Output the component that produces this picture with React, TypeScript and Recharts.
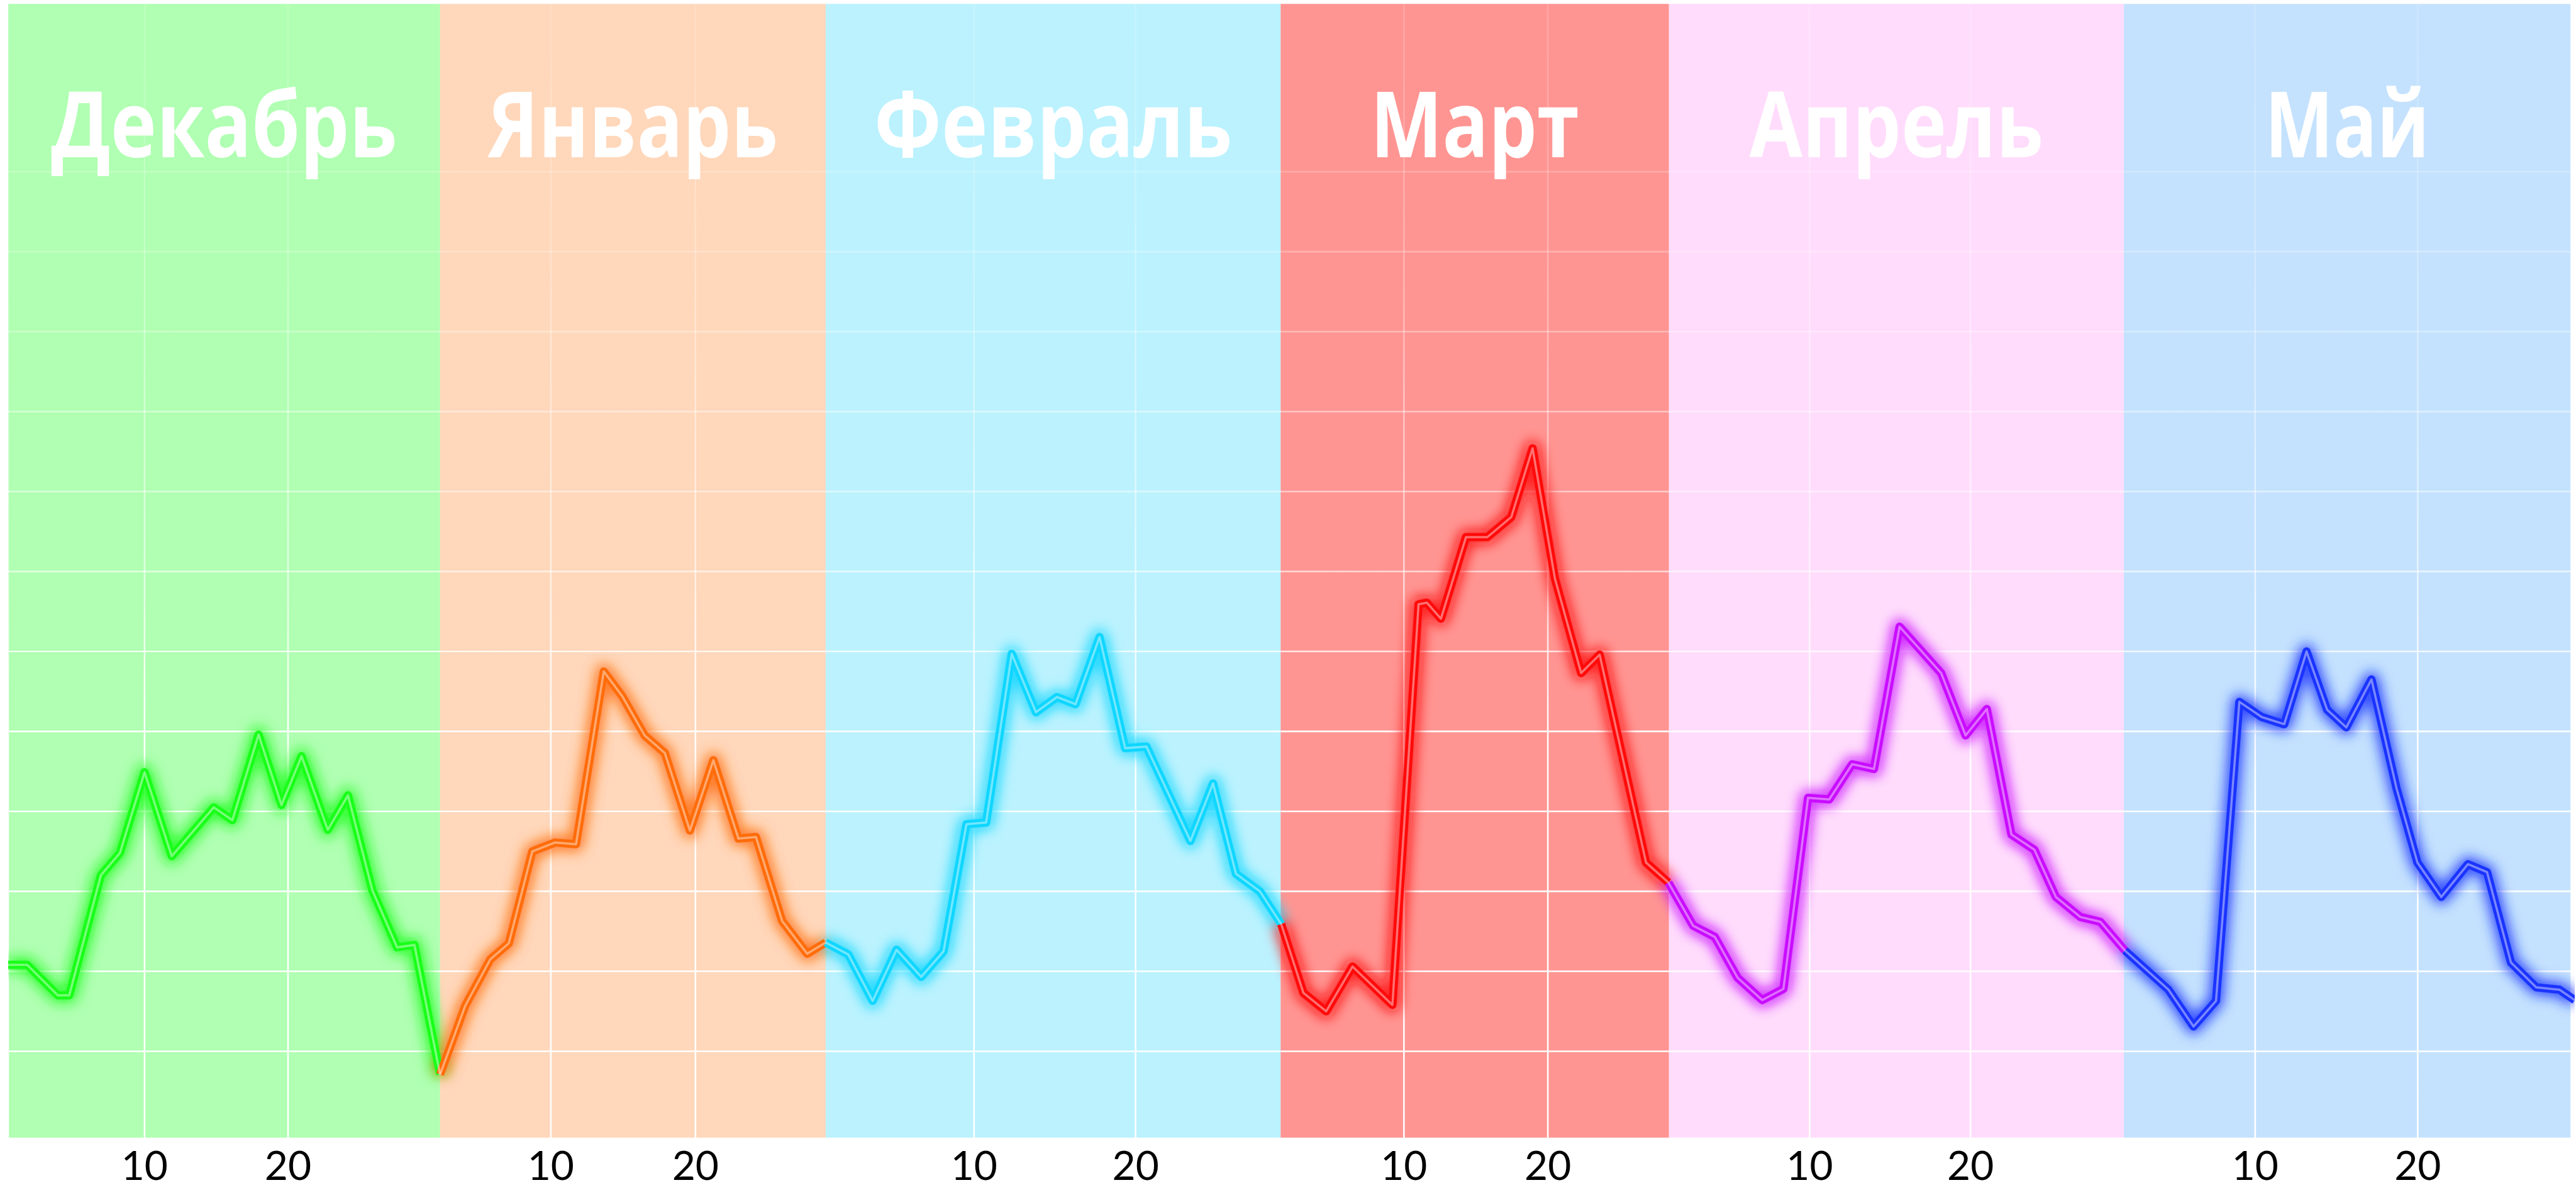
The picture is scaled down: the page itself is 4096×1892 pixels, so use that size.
import {
  LineChart,
  Line,
  XAxis,
  YAxis,
  CartesianGrid,
  ReferenceArea,
} from "recharts";

const W = 4096;
const H = 1892;

// month bands (x in chart units along the timeline)
const monthNames = ["Декабрь", "Январь", "Февраль", "Март", "Апрель", "Май"];
const monthEdges = [0, 30.34, 57.43, 89.39, 116.67, 148.62, 180.0];
const bandColors = ["#b0ffb2", "#ffd7ba", "#bbf2fe", "#ff9592", "#ffdcfc", "#c4e2fe"];
const lineColors = ["#19ff19", "#ff6c0a", "#0fd6ff", "#ff0a0a", "#c90cff", "#1a33ff"];
const titleWidths = [550, 461, 569, 332, 467, 261];

const tickPositions = [9.58, 19.66, 38.12, 48.28, 67.85, 79.2, 98.05, 108.16, 126.55, 137.85, 157.85, 169.27];
const tickLabels = ["10", "20", "10", "20", "10", "20", "10", "20", "10", "20", "10", "20"];
const gridValues = [10, 20, 30, 40, 50, 60, 70, 80, 90, 100, 110, 120];

// [x, value] per month
const decPts: [number, number][] = [
  [0, 20.8], [1.34, 20.8], [3.49, 17.0], [4.29, 17.0], [6.51, 32.0], [7.85, 34.8],
  [9.58, 44.9], [11.49, 34.4], [14.44, 40.5], [15.75, 38.9], [17.59, 49.6], [19.2, 40.8],
  [20.61, 46.9], [22.45, 37.7], [23.87, 42.0], [25.59, 30.1], [27.32, 23.0], [28.54, 23.3],
  [30.34, 7.1],
];
const janPts: [number, number][] = [
  [30.34, 7.1], [32.11, 15.7], [33.87, 21.5], [35.17, 23.5], [36.82, 35.0], [38.41, 36.1],
  [39.89, 35.9], [41.84, 57.5], [43.14, 54.4], [44.71, 49.5], [46.13, 47.3], [47.89, 37.6],
  [49.54, 46.4], [51.3, 36.6], [52.53, 36.8], [54.37, 26.3], [56.13, 22.2], [57.43, 23.6],
];
const febPts: [number, number][] = [
  [57.43, 23.6], [59.02, 22.1], [60.73, 16.3], [62.41, 22.7], [64.14, 19.3], [65.71, 22.5],
  [67.32, 38.4], [68.7, 38.6], [70.5, 59.7], [72.2, 52.4], [73.68, 54.3], [74.98, 53.4],
  [76.67, 61.8], [78.47, 47.9], [79.96, 48.1], [83.05, 36.3], [84.64, 43.5], [86.25, 32.2],
  [87.93, 30.0], [89.43, 25.9],
];
const marPts: [number, number][] = [
  [89.43, 25.9], [90.99, 17.3], [92.59, 15.0], [94.44, 20.6], [97.24, 15.8], [99.08, 65.9],
  [99.66, 66.1], [100.65, 64.1], [102.41, 74.3], [103.91, 74.3], [105.59, 76.8], [107.09, 85.4],
  [108.66, 69.1], [110.5, 57.3], [111.8, 59.6], [115.06, 33.6], [116.63, 31.1],
];
const aprPts: [number, number][] = [
  [116.63, 31.1], [118.37, 25.7], [119.89, 24.3], [121.49, 19.2], [123.22, 16.4], [124.71, 17.8],
  [126.44, 41.7], [127.93, 41.5], [129.54, 45.9], [131.07, 45.3], [132.87, 63.1], [135.79, 57.3],
  [137.51, 49.5], [139.0, 52.8], [140.73, 37.1], [142.34, 35.2], [143.85, 29.3], [145.56, 26.8],
  [146.97, 26.2], [148.7, 22.6],
];
const mayPts: [number, number][] = [
  [148.7, 22.6], [151.76, 17.7], [153.52, 13.1], [155.1, 16.3], [156.74, 53.7], [158.31, 51.8],
  [159.89, 50.9], [161.46, 60.0], [162.91, 52.7], [164.25, 50.5], [166.02, 56.5], [167.78, 42.9],
  [169.25, 33.6], [170.92, 29.3], [172.8, 33.4], [174.14, 32.4], [175.82, 21.1], [177.59, 18.0],
  [179.23, 17.7], [180.3, 16.4],
];

const series = [decPts, janPts, febPts, marPts, aprPts, mayPts].map((pts) =>
  pts.map(([x, v]) => ({ x, v }))
);

const MonthTitle = (props: any) => {
  const { viewBox, name, len } = props;
  if (!viewBox) return null;
  return (
    <text
      x={viewBox.x + viewBox.width / 2}
      y={viewBox.y + 244}
      textAnchor="middle"
      fill="#ffffff"
      fontFamily="'Open Sans', 'Noto Sans', sans-serif"
      fontWeight={700}
      fontSize={145}
      textLength={len}
      lengthAdjust="spacingAndGlyphs"
    >
      {name}
    </text>
  );
};

const App = () => {
  return (
    <div style={{ position: "absolute", left: 0, top: 0, width: W, height: H, background: "#fff" }}>
      <svg width={0} height={0} style={{ position: "absolute" }}>
        <defs>
          <linearGradient id="gridFade" gradientUnits="userSpaceOnUse" x1="0" y1="0" x2="0" y2={H}>
            <stop offset="0" stopColor="#ffffff" stopOpacity={0.15} />
            <stop offset="0.2" stopColor="#ffffff" stopOpacity={0.25} />
            <stop offset="0.48" stopColor="#ffffff" stopOpacity={0.6} />
            <stop offset="0.62" stopColor="#ffffff" stopOpacity={0.95} />
            <stop offset="1" stopColor="#ffffff" stopOpacity={1} />
          </linearGradient>
          <filter id="neonGlow" filterUnits="userSpaceOnUse" x="0" y="0" width={W} height={H}>
            <feGaussianBlur stdDeviation="10" />
          </filter>
        </defs>
      </svg>
      <LineChart width={W} height={H} margin={{ top: 6, right: 2, left: 13, bottom: 0 }}>
        {monthNames.map((name, i) => (
          <ReferenceArea
            key={name}
            x1={monthEdges[i]}
            x2={monthEdges[i + 1]}
            fill={bandColors[i]}
            fillOpacity={1}
            stroke="none"
            zIndex={-200}
            label={<MonthTitle name={name} len={titleWidths[i]} />}
          />
        ))}
        <CartesianGrid stroke="url(#gridFade)" strokeWidth={2.6} zIndex={-100} />
        <XAxis
          dataKey="x"
          type="number"
          domain={[0, 180.3]}
          allowDataOverflow
          ticks={tickPositions}
          interval={0}
          tickFormatter={(_v: number, i: number) => tickLabels[i]}
          axisLine={false}
          tickLine={false}
          tickSize={0}
          tickMargin={21}
          height={82}
          tick={{ fill: "#000", fontSize: 64, fontFamily: "Lato, sans-serif" }}
        />
        <YAxis type="number" domain={[-0.9, 141]} ticks={gridValues} allowDataOverflow hide />
        {series.map((data, i) => (
          <Line
            key={"glow" + i}
            data={data}
            dataKey="v"
            type="linear"
            stroke={lineColors[i]}
            strokeWidth={24}
            strokeOpacity={0.85}
            strokeLinejoin="round"
            filter="url(#neonGlow)"
            dot={false}
            activeDot={false}
            legendType="none"
            isAnimationActive={false}
          />
        ))}
        {series.map((data, i) => (
          <Line
            key={"main" + i}
            data={data}
            dataKey="v"
            type="linear"
            stroke={lineColors[i]}
            strokeWidth={13}
            strokeLinejoin="round"
            dot={false}
            activeDot={false}
            legendType="none"
            isAnimationActive={false}
          />
        ))}
        {series.map((data, i) => (
          <Line
            key={"core" + i}
            data={data}
            dataKey="v"
            type="linear"
            stroke="#ffffff"
            strokeOpacity={0.42}
            strokeWidth={3.5}
            strokeLinejoin="round"
            dot={false}
            activeDot={false}
            legendType="none"
            isAnimationActive={false}
          />
        ))}
      </LineChart>
    </div>
  );
};

export default App;
